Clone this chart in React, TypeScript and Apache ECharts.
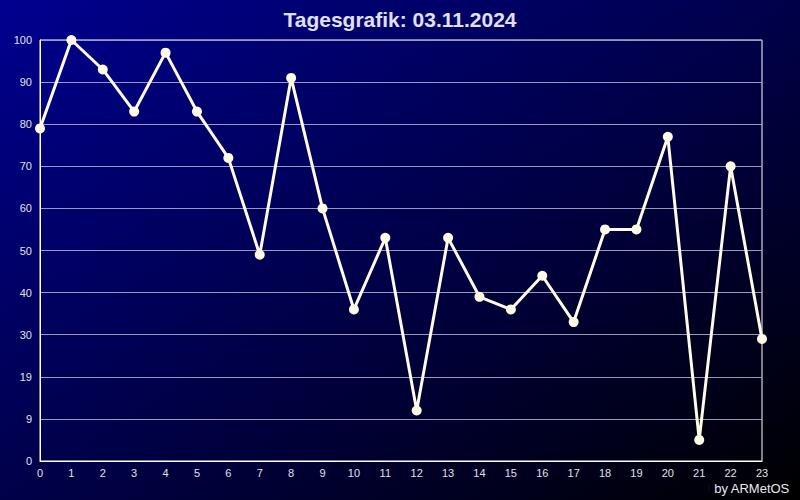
import React, { useEffect, useRef } from "react";
import * as echarts from "echarts";

const hours = ["0","1","2","3","4","5","6","7","8","9","10","11","12","13","14","15","16","17","18","19","20","21","22","23"];
const values = [79, 100, 93, 83, 97, 83, 72, 49, 91, 60, 36, 53, 12, 53, 39, 36, 44, 33, 55, 55, 77, 5, 70, 29];
const yTickLabels = ["0", "9", "19", "30", "40", "50", "60", "70", "80", "90", "100"];
const titleText = "Tagesgrafik: 03.11.2024";
const creditText = "by ARMetOS";

export default function App() {
  const ref = useRef<HTMLDivElement>(null);
  useEffect(() => {
    if (!ref.current) return;
    const chart = echarts.init(ref.current, null, { renderer: "svg" });
    chart.setOption({
      animation: false,
      backgroundColor: new echarts.graphic.LinearGradient(0, 0, 1, 1, [
        { offset: 0, color: "#000090" },
        { offset: 0.5, color: "#00004a" },
        { offset: 1, color: "#000000" },
      ]),
      title: {
        text: titleText,
        left: "center",
        top: 4,
        textStyle: { color: "#e0e0f0", fontSize: 21, fontWeight: "bold", fontFamily: "Liberation Sans, Arial, sans-serif" },
      },
      graphic: [
        {
          type: "text",
          right: 10,
          bottom: 5,
          style: { text: creditText, fill: "#e8e8f0", fontSize: 13, fontFamily: "Liberation Sans, Arial, sans-serif" },
        },
      ],
      grid: {
        left: 40,
        right: 38,
        top: 40,
        bottom: 39,
        show: true,
        borderColor: "#ffffff",
        borderWidth: 1,
        backgroundColor: "transparent",
      },
      xAxis: {
        type: "category",
        data: hours,
        boundaryGap: false,
        axisLine: { show: true, lineStyle: { color: "#ffffff", width: 1 } },
        axisTick: { show: false },
        splitLine: { show: false },
        axisLabel: { color: "#e0e0e8", fontSize: 11, margin: 6, fontFamily: "Liberation Sans, Arial, sans-serif" },
      },
      yAxis: {
        type: "value",
        min: 0,
        max: 100,
        interval: 10,
        axisLine: { show: true, lineStyle: { color: "#ffffff", width: 1 } },
        axisTick: { show: false },
        splitLine: { show: true, lineStyle: { color: "#9a9ab8", width: 1 } },
        axisLabel: {
          color: "#e0e0e8",
          fontSize: 11,
          margin: 8,
          fontFamily: "Liberation Sans, Arial, sans-serif",
          formatter: (v: number) => yTickLabels[Math.round(v / 10)] ?? "",
        },
      },
      series: [
        {
          type: "line",
          data: values,
          symbol: "circle",
          symbolSize: 10,
          lineStyle: { color: "#fffbe6", width: 3 },
          itemStyle: { color: "#fffbe6" },
        },
      ],
    });
    return () => chart.dispose();
  }, []);
  return <div ref={ref} style={{ position: "absolute", left: 0, top: 0, width: 800, height: 500 }} />;
}
